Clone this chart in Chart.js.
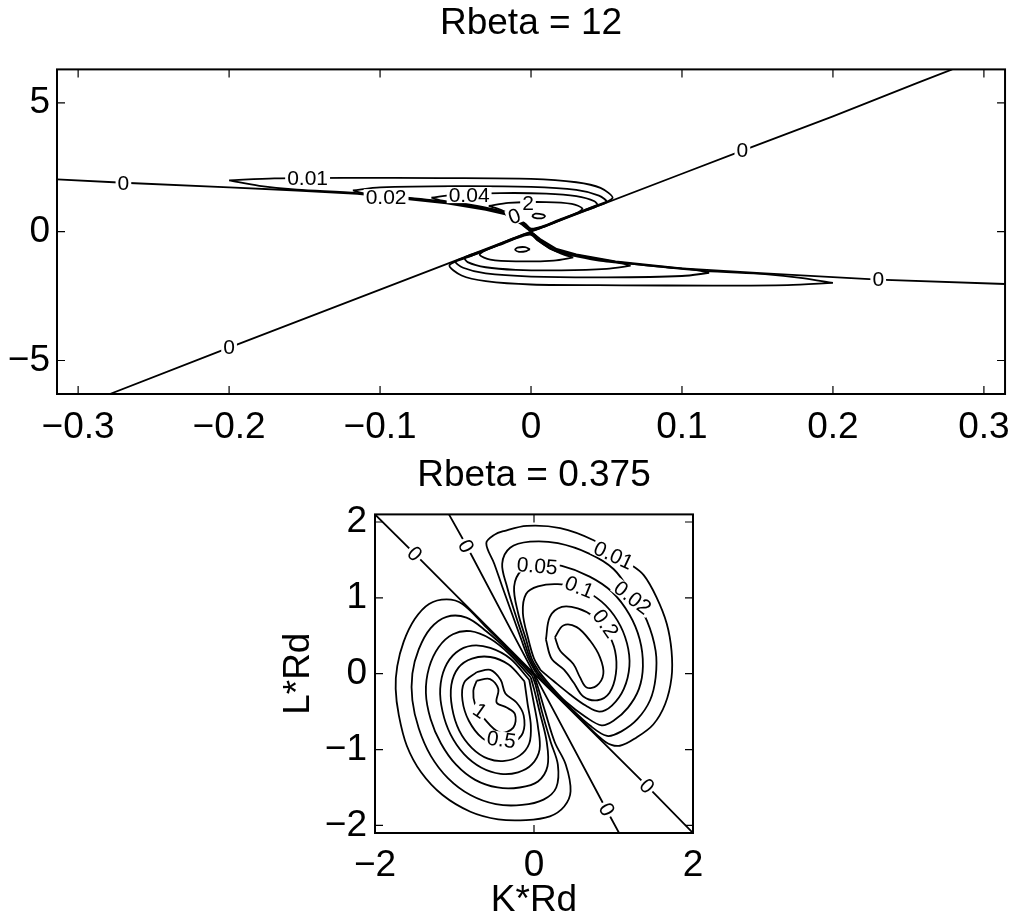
<!DOCTYPE html>
<html>
<head>
<meta charset="utf-8">
<script src="https://cdn.jsdelivr.net/npm/chart.js@4.4.1/dist/chart.umd.min.js"></script>
<style>
  body { margin: 0; background: #fff; }
  #topChart { position: absolute; left: 0; top: 0; }
  #bottomChart { position: absolute; left: 0; top: 450px; }
</style>
</head>
<body>
<canvas id="topChart" width="1022" height="450"></canvas>
<canvas id="bottomChart" width="1022" height="473"></canvas>
<script>
// ---- top panel: Rbeta = 12 ----
var topXTicks = [-0.3, -0.2, -0.1, 0, 0.1, 0.2, 0.3];
var topYTicks = [-5, 0, 5];

// zero contours
var topZeroA = [[-0.279, -6.3], [-0.2, -4.5], [-0.1, -2.25], [0, 0], [0.1, 2.25], [0.14, 3.15], [0.2, 4.48], [0.256, 5.78], [0.279, 6.3]];
var topZeroB = [[-0.314, 2.03], [-0.27, 1.9], [-0.2, 1.72], [-0.155, 1.6], [-0.115, 1.47], [-0.056, 1.1], [-0.03, 0.85], [-0.017, 0.67], [-0.006, 0.28], [0, 0],
                [0.006, -0.28], [0.017, -0.67], [0.03, -0.88], [0.056, -1.15], [0.1, -1.42], [0.155, -1.62], [0.23, -1.86], [0.314, -2.03]];

// upper lobe
var top001Up = [[-0.2, 1.99], [-0.17, 2.07], [-0.12, 2.09], [-0.06, 2.08], [0, 2.05], [0.03, 1.92], [0.046, 1.7], [0.054, 1.3], [0.04, 0.95], [0.025, 0.58], [0.01, 0.22], [0, 0.05],
                [-0.006, 0.3], [-0.017, 0.7], [-0.03, 0.88], [-0.056, 1.13], [-0.115, 1.5], [-0.155, 1.63], [-0.18, 1.78], [-0.2, 1.99]];
var top002Up = [[-0.118, 1.6], [-0.1, 1.72], [-0.05, 1.77], [0, 1.74], [0.03, 1.62], [0.045, 1.4], [0.05, 1.15], [0.038, 0.9], [0.023, 0.55], [0.009, 0.22], [0, 0.07],
                [-0.005, 0.3], [-0.015, 0.68], [-0.028, 0.88], [-0.055, 1.15], [-0.09, 1.37], [-0.11, 1.48], [-0.118, 1.6]];
var top004Up = [[-0.066, 1.32], [-0.05, 1.44], [-0.02, 1.5], [0.01, 1.48], [0.03, 1.38], [0.042, 1.18], [0.044, 1.0], [0.035, 0.8], [0.021, 0.5], [0.008, 0.2], [0, 0.09],
                [-0.004, 0.3], [-0.014, 0.68], [-0.027, 0.9], [-0.045, 1.1], [-0.06, 1.22], [-0.066, 1.32]];
var top01Up = [[-0.028, 1.0], [-0.015, 1.12], [0.01, 1.15], [0.027, 1.08], [0.034, 0.9], [0.03, 0.72], [0.018, 0.45], [0.007, 0.2], [0, 0.12], [-0.004, 0.32], [-0.012, 0.62], [-0.02, 0.85], [-0.028, 1.0]];
var top02Up = [[0.0007, 0.62], [0.003, 0.7], [0.008, 0.66], [0.0093, 0.6], [0.007, 0.52], [0.002, 0.55], [0.0007, 0.62]];

// lower lobe
var top001Dn = [[0.2, -1.99], [0.17, -2.07], [0.12, -2.09], [0.06, -2.08], [0, -2.05], [-0.03, -1.92], [-0.046, -1.7], [-0.054, -1.3], [-0.04, -0.95], [-0.025, -0.58], [-0.01, -0.22], [0, -0.05],
                [0.006, -0.3], [0.017, -0.7], [0.03, -0.9], [0.056, -1.17], [0.115, -1.52], [0.155, -1.65], [0.18, -1.8], [0.2, -1.99]];
var top002Dn = [[0.118, -1.6], [0.1, -1.72], [0.05, -1.77], [0, -1.74], [-0.03, -1.62], [-0.045, -1.4], [-0.05, -1.15], [-0.038, -0.9], [-0.023, -0.55], [-0.009, -0.22], [0, -0.07],
                [0.005, -0.3], [0.015, -0.7], [0.028, -0.9], [0.055, -1.17], [0.09, -1.38], [0.11, -1.49], [0.118, -1.6]];
var top004Dn = [[0.066, -1.32], [0.05, -1.44], [0.02, -1.5], [-0.01, -1.48], [-0.03, -1.38], [-0.042, -1.18], [-0.044, -1.0], [-0.035, -0.8], [-0.021, -0.5], [-0.008, -0.2], [0, -0.09],
                [0.004, -0.3], [0.014, -0.7], [0.027, -0.92], [0.045, -1.12], [0.06, -1.23], [0.066, -1.32]];
var top01Dn = [[0.028, -1.0], [0.015, -1.12], [-0.01, -1.15], [-0.027, -1.08], [-0.034, -0.9], [-0.03, -0.72], [-0.018, -0.45], [-0.007, -0.2], [0, -0.12], [0.004, -0.32], [0.012, -0.62], [0.02, -0.85], [0.028, -1.0]];
var top02Dn = [[-0.0007, -0.68], [-0.004, -0.6], [-0.009, -0.62], [-0.0105, -0.7], [-0.008, -0.78], [-0.003, -0.75], [-0.0007, -0.68]];

var topLabels = [['0', -0.27, 1.9], ['0', -0.2, -4.5], ['0', 0.14, 3.15], ['0', 0.23, -1.86], ['0', -0.011, 0.6], ['2', -0.002, 1.1],
                 ['0.01', -0.148, 2.08], ['0.02', -0.096, 1.34], ['0.04', -0.041, 1.42]];
var topLabelAngles = [0, 0, 0, 0, -20, 0, 0, 0, 0];

// ---- bottom panel: Rbeta = 0.375 ----
var botXTicks = [-2, 0, 2];
var botYTicks = [-2, -1, 0, 1, 2];

var botZeroP = [[-2, 2.1], [-1.5, 1.58], [0, 0], [1.42, -1.48], [2, -2.1]];
var botZeroQ = [[-1.07, 2.1], [-0.855, 1.7], [0, 0], [0.915, -1.8], [1.07, -2.1]];

// upper-right lobe
var botUp001 = [[0.02, 0.02], [-0.07, 0.2], [-0.16, 0.45], [-0.28, 0.8], [-0.4, 1.15], [-0.5, 1.45], [-0.6, 1.72], [-0.5, 1.83], [-0.38, 1.88], [-0.09, 1.95], [0.33, 1.92], [0.75, 1.76], [1.0, 1.58],
                [1.2, 1.45], [1.38, 1.3], [1.54, 1.01], [1.67, 0.66], [1.73, 0.3], [1.73, -0.05], [1.65, -0.4], [1.5, -0.67], [1.29, -0.84], [1.08, -0.95], [0.9, -0.9], [0.6, -0.61], [0.3, -0.3], [0.1, -0.09], [0.02, 0.02]];
var botUp002 = [[0.04, 0.02], [-0.05, 0.2], [-0.13, 0.45], [-0.24, 0.8], [-0.34, 1.15], [-0.4, 1.45], [-0.3, 1.66], [-0.05, 1.74], [0.3, 1.72], [0.7, 1.58], [1.0, 1.38], [1.23, 1.05], [1.42, 0.7],
                [1.53, 0.3], [1.53, -0.05], [1.46, -0.35], [1.3, -0.6], [1.1, -0.76], [0.92, -0.82], [0.7, -0.68], [0.45, -0.44], [0.2, -0.18], [0.04, 0.02]];
var botUp005 = [[0.06, 0.03], [-0.03, 0.2], [-0.1, 0.45], [-0.2, 0.8], [-0.25, 1.15], [-0.15, 1.37], [0.05, 1.45], [0.35, 1.42], [0.7, 1.28], [0.98, 1.08], [1.2, 0.78], [1.33, 0.45], [1.37, 0.1],
                [1.32, -0.2], [1.18, -0.45], [1.0, -0.62], [0.85, -0.68], [0.65, -0.57], [0.4, -0.37], [0.2, -0.15], [0.06, 0.03]];
var botUp01 = [[0.08, 0.05], [0, 0.2], [-0.07, 0.45], [-0.14, 0.8], [-0.1, 1.05], [0.05, 1.15], [0.3, 1.18], [0.58, 1.12], [0.85, 0.95], [1.05, 0.7], [1.17, 0.4], [1.2, 0.1], [1.13, -0.2], [0.98, -0.42],
               [0.82, -0.5], [0.65, -0.42], [0.45, -0.27], [0.25, -0.1], [0.08, 0.05]];
var botUp02 = [[0.15, 0.45], [0.2, 0.75], [0.35, 0.88], [0.55, 0.86], [0.75, 0.75], [0.92, 0.55], [1.02, 0.3], [1.03, 0], [0.95, -0.25], [0.8, -0.35], [0.62, -0.3], [0.5, -0.12], [0.38, 0.05],
               [0.22, 0.2], [0.15, 0.45]];
var botUp05 = [[0.264, 0.481], [0.369, 0.636], [0.537, 0.614], [0.704, 0.437], [0.83, 0.216], [0.872, -0.004], [0.788, -0.159], [0.662, -0.181], [0.579, -0.049], [0.495, 0.128], [0.327, 0.305], [0.264, 0.481]];

// lower-left lobe
var botLo001 = [[0, -0.02], [-0.3, 0.3], [-0.6, 0.61], [-0.9, 0.92], [-1.1, 0.98], [-1.32, 0.92], [-1.5, 0.72], [-1.64, 0.42], [-1.72, 0.1], [-1.74, -0.2], [-1.7, -0.55], [-1.6, -0.95], [-1.42, -1.3],
                [-1.15, -1.6], [-0.8, -1.82], [-0.45, -1.92], [-0.1, -1.93], [0.2, -1.88], [0.38, -1.75], [0.46, -1.55], [0.4, -1.2], [0.26, -0.9], [0.14, -0.5], [0.05, -0.18], [0, -0.02]];
var botLo002 = [[-0.02, -0.03], [-0.3, 0.28], [-0.6, 0.56], [-0.85, 0.74], [-1.1, 0.75], [-1.3, 0.6], [-1.45, 0.32], [-1.53, 0], [-1.53, -0.35], [-1.45, -0.72], [-1.3, -1.08], [-1.08, -1.38],
                [-0.8, -1.6], [-0.48, -1.72], [-0.15, -1.73], [0.12, -1.66], [0.28, -1.5], [0.3, -1.2], [0.21, -0.9], [0.1, -0.5], [0.02, -0.15], [-0.02, -0.03]];
var botLo005 = [[-0.04, -0.05], [-0.3, 0.25], [-0.55, 0.46], [-0.8, 0.56], [-1.02, 0.52], [-1.2, 0.35], [-1.32, 0.08], [-1.36, -0.25], [-1.3, -0.6], [-1.17, -0.92], [-0.98, -1.2], [-0.74, -1.4],
                [-0.46, -1.5], [-0.18, -1.5], [0.05, -1.42], [0.17, -1.22], [0.16, -0.9], [0.07, -0.5], [0, -0.2], [-0.04, -0.05]];
var botLo01 = [[-0.06, -0.08], [-0.3, 0.2], [-0.55, 0.34], [-0.78, 0.37], [-0.98, 0.28], [-1.12, 0.08], [-1.18, -0.2], [-1.15, -0.5], [-1.05, -0.8], [-0.88, -1.06], [-0.66, -1.24], [-0.42, -1.32],
               [-0.2, -1.3], [-0.03, -1.2], [0.07, -1.0], [0.05, -0.7], [0, -0.4], [-0.06, -0.08]];
var botLo02 = [[-0.12, -0.1], [-0.32, 0.12], [-0.55, 0.22], [-0.78, 0.2], [-0.95, 0.08], [-1.04, -0.15], [-1.03, -0.45], [-0.94, -0.75], [-0.78, -0.98], [-0.58, -1.12], [-0.37, -1.15],
               [-0.18, -1.08], [-0.06, -0.92], [-0.04, -0.68], [-0.08, -0.4], [-0.12, -0.1]];
var botLo05 = [[-0.72, 0.02], [-0.55, 0.05], [-0.42, -0.08], [-0.36, -0.26], [-0.22, -0.38], [-0.13, -0.55], [-0.14, -0.78], [-0.26, -0.9], [-0.45, -0.94], [-0.65, -0.85], [-0.82, -0.62],
               [-0.9, -0.35], [-0.88, -0.12], [-0.72, 0.02]];
var botLo1 = [[-0.721, -0.093], [-0.553, -0.071], [-0.449, -0.203], [-0.47, -0.38], [-0.344, -0.446], [-0.239, -0.534], [-0.26, -0.711], [-0.428, -0.777], [-0.637, -0.578], [-0.742, -0.402],
              [-0.763, -0.225], [-0.721, -0.093]];

var botLabels = [['0', -1.5, 1.58], ['0', 1.42, -1.48], ['0', -0.855, 1.68], ['0', 0.915, -1.79],
                 ['0.01', 1.0, 1.56], ['0.02', 1.24, 1.0], ['0.05', 0.04, 1.42], ['0.1', 0.57, 1.14], ['0.2', 0.9, 0.66], ['1', -0.68, -0.49], ['0.5', -0.41, -0.87]];
var botLabelAngles = [45, 45, 62, 62, 25, 38, 5, 22, 55, 35, 8];

var FONT = '"Liberation Sans", Arial, Helvetica, sans-serif';

function line(pts, tension) {
  return {
    data: pts.map(function (p) { return { x: p[0], y: p[1] }; }),
    showLine: true,
    borderColor: '#000',
    borderWidth: 1.8,
    pointRadius: 0,
    tension: tension,
    fill: false,
    clip: 0
  };
}

function minus(v) { return String(v).replace('-', '\u2212'); }

var framePlugin = {
  id: 'frame',
  afterDatasetsDraw: function (chart) {
    var ctx = chart.ctx, a = chart.chartArea, sx = chart.scales.x, sy = chart.scales.y;
    ctx.save();
    ctx.strokeStyle = '#000';
    ctx.lineWidth = 1.2;
    ctx.beginPath();
    sx.ticks.forEach(function (t) {
      var px = sx.getPixelForValue(t.value);
      ctx.moveTo(px, a.bottom); ctx.lineTo(px, a.bottom - 8);
      ctx.moveTo(px, a.top); ctx.lineTo(px, a.top + 8);
    });
    sy.ticks.forEach(function (t) {
      var py = sy.getPixelForValue(t.value);
      ctx.moveTo(a.left, py); ctx.lineTo(a.left + 8, py);
      ctx.moveTo(a.right, py); ctx.lineTo(a.right - 8, py);
    });
    ctx.stroke();
    ctx.lineWidth = 2;
    ctx.strokeRect(a.left, a.top, a.right - a.left, a.bottom - a.top);
    ctx.restore();
  }
};

function labelPlugin(labels, angles) {
  return {
    id: 'clabels',
    afterDatasetsDraw: function (chart) {
      var ctx = chart.ctx, sx = chart.scales.x, sy = chart.scales.y;
      ctx.save();
      ctx.font = '21px ' + FONT;
      ctx.textAlign = 'center';
      ctx.textBaseline = 'middle';
      labels.forEach(function (l, i) {
        var px = sx.getPixelForValue(l[1]), py = sy.getPixelForValue(l[2]);
        var w = ctx.measureText(l[0]).width;
        ctx.save();
        ctx.translate(px, py);
        ctx.rotate(angles[i] * Math.PI / 180);
        ctx.fillStyle = '#fff';
        ctx.fillRect(-w / 2 - 2, -8, w + 4, 16);
        ctx.fillStyle = '#000';
        ctx.fillText(l[0], 0, 1);
        ctx.restore();
      });
      ctx.restore();
    }
  };
}

function tickSetter(vals) {
  return function (scale) { scale.ticks = vals.map(function (v) { return { value: v }; }); };
}

var tickFont = { family: FONT, size: 37 };

new Chart(document.getElementById('topChart'), {
  type: 'scatter',
  data: {
    datasets: [topZeroA, topZeroB].map(function (p) { return line(p, 0); })
      .concat([top001Up, top002Up, top004Up, top01Up, top02Up, top001Dn, top002Dn, top004Dn, top01Dn, top02Dn].map(function (p) { return line(p, 0.3); }))
  },
  options: {
    responsive: false,
    animation: false,
    devicePixelRatio: 1,
    layout: { padding: { left: 0, right: 7, top: 0, bottom: 0 } },
    plugins: {
      legend: { display: false },
      tooltip: { enabled: false },
      title: { display: true, text: 'Rbeta = 12', fullSize: false, color: '#000', font: { family: FONT, size: 37, weight: 'normal', lineHeight: 1.2 }, padding: { top: 2, bottom: 23 } }
    },
    scales: {
      x: {
        type: 'linear', min: -0.314, max: 0.314,
        grid: { display: false, drawTicks: false },
        border: { display: false },
        afterBuildTicks: tickSetter(topXTicks),
        afterFit: function (s) { s.height = 56; },
        ticks: { color: '#000', font: tickFont, padding: 12, maxRotation: 0, callback: minus }
      },
      y: {
        type: 'linear', min: -6.3, max: 6.3,
        grid: { display: false, drawTicks: false },
        border: { display: false },
        afterBuildTicks: tickSetter(topYTicks),
        afterFit: function (s) { s.width = 57; },
        ticks: { color: '#000', font: tickFont, padding: 7, callback: minus }
      }
    }
  },
  plugins: [framePlugin, labelPlugin(topLabels, topLabelAngles)]
});

new Chart(document.getElementById('bottomChart'), {
  type: 'scatter',
  data: {
    datasets: [botZeroP, botZeroQ].map(function (p) { return line(p, 0); })
      .concat([botUp001, botUp002, botUp005, botUp01, botUp02, botUp05, botLo001, botLo002, botLo005, botLo01, botLo02, botLo05, botLo1].map(function (p) { return line(p, 0.35); }))
  },
  options: {
    responsive: false,
    animation: false,
    devicePixelRatio: 1,
    layout: { padding: { left: 274, right: 329, top: 0, bottom: 0 } },
    plugins: {
      legend: { display: false },
      tooltip: { enabled: false },
      title: { display: true, text: 'Rbeta = 0.375', fullSize: false, color: '#000', font: { family: FONT, size: 37, weight: 'normal', lineHeight: 1.2 }, padding: { top: 4, bottom: 16 } }
    },
    scales: {
      x: {
        type: 'linear', min: -2, max: 2,
        grid: { display: false, drawTicks: false },
        border: { display: false },
        afterBuildTicks: tickSetter(botXTicks),
        afterFit: function (s) { s.height = 90; },
        ticks: { color: '#000', font: tickFont, padding: 11, maxRotation: 0, callback: minus },
        title: { display: true, text: 'K*Rd', color: '#000', font: { family: FONT, size: 37, lineHeight: 1.2 }, padding: { top: 0, bottom: 0 } }
      },
      y: {
        type: 'linear', min: -2.1, max: 2.1,
        grid: { display: false, drawTicks: false },
        border: { display: false },
        afterBuildTicks: tickSetter(botYTicks),
        afterFit: function (s) { s.width = 101; },
        ticks: { color: '#000', font: tickFont, padding: 8, callback: minus },
        title: { display: true, text: 'L*Rd', color: '#000', font: { family: FONT, size: 37, lineHeight: 1.2 }, padding: { top: 3, bottom: 0 } }
      }
    }
  },
  plugins: [framePlugin, labelPlugin(botLabels, botLabelAngles)]
});
</script>
</body>
</html>
